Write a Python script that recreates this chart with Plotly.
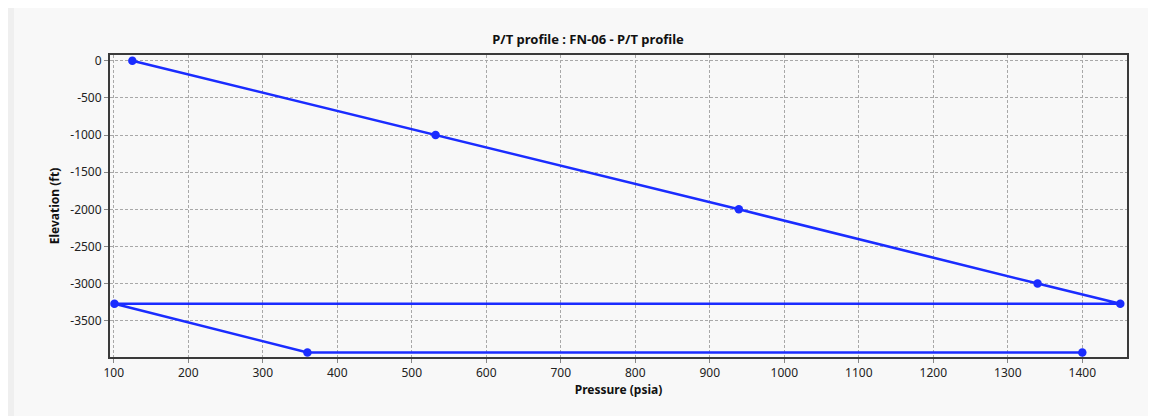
import plotly.graph_objects as go

# Data
pressure = [125, 532, 939, 1340, 1451, 101, 360, 1400]
elevation = [0, -1000, -2000, -3000, -3272, -3272, -3927, -3927]

x_ticks = [100, 200, 300, 400, 500, 600, 700, 800, 900, 1000, 1100, 1200, 1300, 1400]
y_ticks = [0, -500, -1000, -1500, -2000, -2500, -3000, -3500]
y_ticktext = ["0", "-500", "-1000", "-1500", "-2000", "-2500", "-3000", "-3500"]

W, H = 1148, 408
L, R, T, B = 102, 29, 47, 59
pw, ph = W - L - R, H - T - B


def px(x):
    return (x - L) / pw


def py(y):
    return (H - B - y) / ph


font_family = "Noto Sans, Open Sans, DejaVu Sans, sans-serif"
blue = "#1a2cff"
grid = "#a8a8a8"

fig = go.Figure()
fig.add_trace(go.Scatter(
    x=pressure, y=elevation, mode="lines+markers",
    line=dict(color=blue, width=2.6),
    marker=dict(color=blue, size=8.5),
    showlegend=False, cliponaxis=False,
))

shapes = [
    # slightly darker strip along the left edge
    dict(type="rect", xref="paper", yref="paper", x0=px(0), x1=px(6), y0=py(H), y1=py(0),
         fillcolor="#efefef", line=dict(width=0), layer="below"),
]

fig.update_layout(
    width=W, height=H,
    margin=dict(l=L, r=R, t=T, b=B, pad=0),
    paper_bgcolor="#f8f8f8", plot_bgcolor="#f8f8f8",
    font=dict(family=font_family, size=12, color="#222222"),
    title=dict(text="<b>P/T profile : FN-06 - P/T profile</b>", x=580 / W, xanchor="center",
               xref="container", y=1 - 31 / H, yanchor="middle", yref="container",
               font=dict(size=13, color="#111111")),
    shapes=shapes,
    xaxis=dict(
        range=[95, 1460], tickvals=x_ticks, showgrid=True, gridcolor=grid, griddash="3px,2px",
        gridwidth=1, zeroline=False, showline=True, linecolor="#3a3a3a", linewidth=2, mirror=True,
        ticks="outside", ticklen=4, tickcolor="#888888",
        title=dict(text="<b>Pressure (psia)</b>", standoff=4, font=dict(size=12, color="#111111")),
    ),
    yaxis=dict(
        range=[-3988, 77], tickvals=y_ticks, ticktext=y_ticktext, showgrid=True, gridcolor=grid,
        griddash="3px,2px", gridwidth=1, zeroline=False, showline=True, linecolor="#3a3a3a",
        linewidth=2, mirror=True, ticks="outside", ticklen=4, tickcolor="#888888",
        title=dict(text="<b>Elevation (ft)</b>", standoff=8, font=dict(size=12, color="#111111")),
    ),
)

fig.write_html("out.html")
